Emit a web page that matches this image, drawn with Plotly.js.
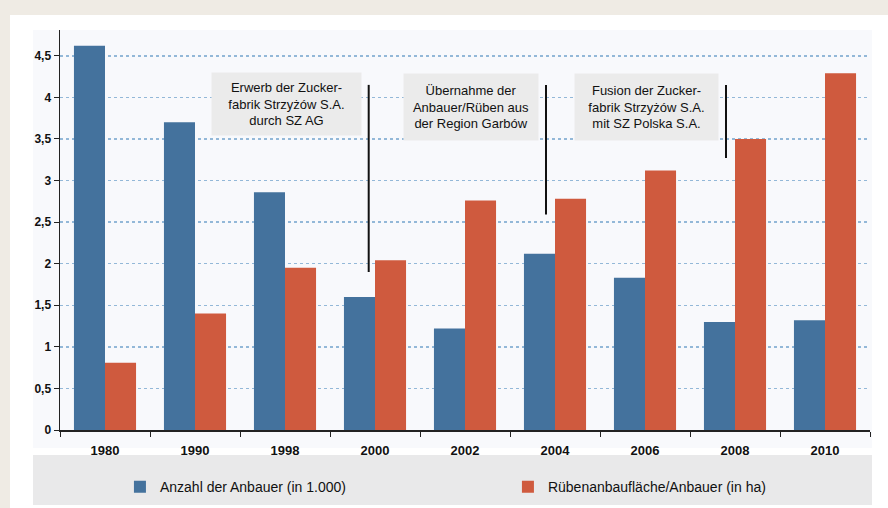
<!DOCTYPE html>
<html>
<head>
<meta charset="utf-8">
<script src="https://cdn.plot.ly/plotly-3.0.1.min.js"></script>
<style>html,body{margin:0;padding:0;background:#efebe4;}#chart{width:888px;height:508px;}</style>
</head>
<body>
<div id="chart"></div>
<script>
const years = ["1980","1990","1998","2000","2002","2004","2006","2008","2010"];
const anbauer = [4.62, 3.70, 2.86, 1.60, 1.22, 2.12, 1.83, 1.30, 1.32];
const flaeche = [0.81, 1.40, 1.95, 2.04, 2.76, 2.78, 3.12, 3.50, 4.29];
const seriesNames = ["Anzahl der Anbauer (in 1.000)", "Rübenanbaufläche/Anbauer (in ha)"];
const yTicks = [0, 0.5, 1, 1.5, 2, 2.5, 3, 3.5, 4, 4.5];
const notes = [
  {text: "Erwerb der Zucker-<br>fabrik Strzyżów S.A.<br>durch SZ AG", x: 2.02, y: 3.92, w: 147, h: 60, lineX: 2.93, lineFrom: 1.90, lineTo: 4.15},
  {text: "Übernahme der<br>Anbauer/Rüben aus<br>der Region Garbów", x: 4.07, y: 3.89, w: 132, h: 64, lineX: 4.90, lineFrom: 2.59, lineTo: 4.15},
  {text: "Fusion der Zucker-<br>fabrik Strzyżów S.A.<br>mit SZ Polska S.A.", x: 6.02, y: 3.89, w: 141, h: 64, lineX: 6.90, lineFrom: 3.27, lineTo: 4.15}
];

const BLUE = "#44729d", RED = "#cf5a3e";
const FONT = "Liberation Sans Narrow, Arial Narrow, Liberation Sans, Arial, sans-serif";
const LEGFONT = {family: "Liberation Sans, Arial, sans-serif", size: 14, color: "#111111"};

const traces = [
  {type: "bar", x: years, y: anbauer, name: seriesNames[0], marker: {color: BLUE}, legend: "legend"},
  {type: "bar", x: years, y: flaeche, name: seriesNames[1], marker: {color: RED}, legend: "legend2"}
];

const shapes = [
  {type: "rect", xref: "paper", yref: "paper", x0: -0.0617, x1: 1.03, y0: -0.2, y1: 1.0375, fillcolor: "#ffffff", line: {width: 0}, layer: "below"},
  {type: "rect", xref: "paper", yref: "paper", x0: -0.0333, x1: 1.0025, y0: -0.045, y1: 1.0, fillcolor: "#f8f9fc", line: {width: 0}, layer: "below"},
  {type: "rect", xref: "paper", yref: "paper", x0: -0.0333, x1: 1.0025, y0: -0.1875, y1: -0.0625, fillcolor: "#e9e9ea", line: {width: 0}, layer: "below"}
];
notes.forEach(n => shapes.push({type: "line", xref: "x", yref: "y", x0: n.lineX, x1: n.lineX, y0: n.lineFrom, y1: n.lineTo, line: {color: "#111111", width: 2}}));

const annotations = notes.map(n => ({
  xref: "x", yref: "y", x: n.x, y: n.y, text: n.text, showarrow: false,
  width: n.w, height: n.h, bgcolor: "#ebebeb", align: "center", valign: "middle",
  font: {family: "Liberation Sans, Arial, sans-serif", size: 13, color: "#111111"}
}));

const layout = {
  width: 888, height: 508,
  margin: {l: 60, r: 18, t: 30, b: 78, autoexpand: false},
  paper_bgcolor: "#efebe4",
  plot_bgcolor: "#f8f9fc",
  separators: ",.",
  barmode: "group",
  bargap: 0.31,
  bargroupgap: 0,
  font: {family: FONT, color: "#111111"},
  xaxis: {
    type: "category", showline: true, linecolor: "#222222", linewidth: 1.5,
    ticks: "outside", tickson: "boundaries", ticklen: 5, tickcolor: "#222222",
    ticklabelstandoff: 8,
    tickfont: {family: FONT, size: 13, weight: "bold", color: "#111111"},
    showgrid: false, zeroline: false, fixedrange: true
  },
  yaxis: {
    range: [0, 4.81], tickvals: yTicks, ticktext: yTicks.map(v => String(v).replace(".", ",")),
    showline: true, linecolor: "#222222", linewidth: 1.5,
    ticks: "outside", ticklen: 5, tickcolor: "#222222",
    tickfont: {family: FONT, size: 12, weight: "bold", color: "#111111"},
    showgrid: true, gridcolor: "#93b8d8", gridwidth: 1.5, griddash: "dot",
    zeroline: false, fixedrange: true
  },
  showlegend: true,
  legend: {
    orientation: "h", x: 0.074, xanchor: "left", y: -0.143, yanchor: "middle",
    bgcolor: "rgba(0,0,0,0)", font: LEGFONT
  },
  legend2: {
    orientation: "h", x: 0.553, xanchor: "left", y: -0.143, yanchor: "middle",
    bgcolor: "rgba(0,0,0,0)", font: LEGFONT
  },
  shapes: shapes,
  annotations: annotations
};

Plotly.newPlot("chart", traces, layout, {displayModeBar: false, staticPlot: true});
</script>
</body>
</html>
